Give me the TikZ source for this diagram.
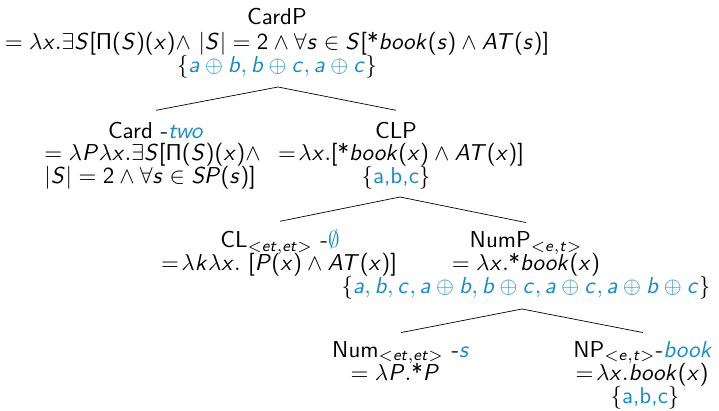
\documentclass[tikz,border=0pt]{standalone}
\usepackage{amssymb}
\DeclareSymbolFont{sfletters}{OT1}{cmss}{m}{sl}
\DeclareSymbolFont{sfops}{OT1}{cmss}{m}{n}
\DeclareMathSymbol{a}{\mathalpha}{sfletters}{`a}
\DeclareMathSymbol{b}{\mathalpha}{sfletters}{`b}
\DeclareMathSymbol{c}{\mathalpha}{sfletters}{`c}
\DeclareMathSymbol{e}{\mathalpha}{sfletters}{`e}
\DeclareMathSymbol{k}{\mathalpha}{sfletters}{`k}
\DeclareMathSymbol{o}{\mathalpha}{sfletters}{`o}
\DeclareMathSymbol{s}{\mathalpha}{sfletters}{`s}
\DeclareMathSymbol{t}{\mathalpha}{sfletters}{`t}
\DeclareMathSymbol{w}{\mathalpha}{sfletters}{`w}
\DeclareMathSymbol{x}{\mathalpha}{sfletters}{`x}
\DeclareMathSymbol{A}{\mathalpha}{sfletters}{`A}
\DeclareMathSymbol{P}{\mathalpha}{sfletters}{`P}
\DeclareMathSymbol{S}{\mathalpha}{sfletters}{`S}
\DeclareMathSymbol{T}{\mathalpha}{sfletters}{`T}
\DeclareMathSymbol{2}{\mathord}{sfops}{`2}
\DeclareMathSymbol{(}{\mathopen}{sfops}{"28}
\DeclareMathSymbol{)}{\mathclose}{sfops}{"29}
\DeclareMathSymbol{[}{\mathopen}{sfops}{"5B}
\DeclareMathSymbol{]}{\mathclose}{sfops}{"5D}
\DeclareMathSymbol{\Pi}{\mathalpha}{sfops}{"05}
\definecolor{sb}{RGB}{20,140,200}
\begin{document}
\begin{tikzpicture}[x=1pt,y=-1pt,
  font=\fontsize{10}{12}\selectfont\sffamily,
  every node/.style={inner sep=0pt, anchor=base, scale=2.3},
  branch/.style={line width=0.7pt}]
\useasboundingbox (0,0) rectangle (719,411);
% level 1
\node (cardp) at (277,25) {CardP};
\node (cardpsem) at (277,50) {$= \lambda x.\exists S[\Pi(S)(x){\wedge}\ |S| = 2 \wedge \forall s \in S[\mbox{*}book(s) \wedge AT(s)]$};
\node (cardpset) at (277,73) {$\{\textcolor{sb}{a\oplus b, b\oplus c, a\oplus c}\}$};
% level 2
\node (card) at (156,139) {Card -\textcolor{sb}{$two$}};
\node[anchor=base west] (cardsema) at (44,161) {$= \lambda P\lambda x.\exists S[\Pi(S)(x){\wedge}$};
\node[anchor=base west] (cardsemb) at (44,184) {$|S| = 2 \wedge \forall s \in SP(s)]$};
\node (clp) at (396,139) {CLP};
\node (clpsem) at (401,161) {$=\!\lambda x.[\mbox{*}book(x) \wedge AT(x)]$};
\node (clpset) at (396,184) {$\{$\textcolor{sb}{a,b,c}$\}$};
% level 3
\node (cl) at (280,248) {CL$_{<et,et>}$ -\textcolor{sb}{$\emptyset$}};
\node (clsem) at (279,270) {$=\!\lambda k\lambda x.\ [P(x) \wedge AT(x)]$};
\node (nump) at (526,248) {NumP$_{<e,t>}$};
\node (numpsem) at (526,270) {$= \lambda x.\mbox{*}book(x)$};
\node (numpset) at (526,294) {$\{\textcolor{sb}{a, b, c, a\oplus b, b\oplus c, a\oplus c, a\oplus b\oplus c}\}$};
% level 4
\node (num) at (401,357) {Num$_{<et,et>}$ -\textcolor{sb}{$s$}};
\node (numsem) at (395,380) {$= \lambda P.\mbox{*}P$};
\node (np) at (643,357) {NP$_{<e,t>}$-\textcolor{sb}{$book$}};
\node (npsem) at (642,380) {$=\!\lambda x.book(x)$};
\node (npset) at (645,403) {$\{$\textcolor{sb}{a,b,c}$\}$};
% branches
\coordinate (a1) at (278,87);
\coordinate (a2) at (400,197);
\coordinate (a3) at (522,309);
\draw[branch] ([yshift=12pt]card.north) -- (a1) -- ([yshift=12pt]clp.north);
\draw[branch] ([yshift=9pt]cl.north) -- (a2) -- ([yshift=9pt]nump.north);
\draw[branch] ([yshift=8pt]num.north) -- (a3) -- ([yshift=8pt]np.north);
\end{tikzpicture}
\end{document}
